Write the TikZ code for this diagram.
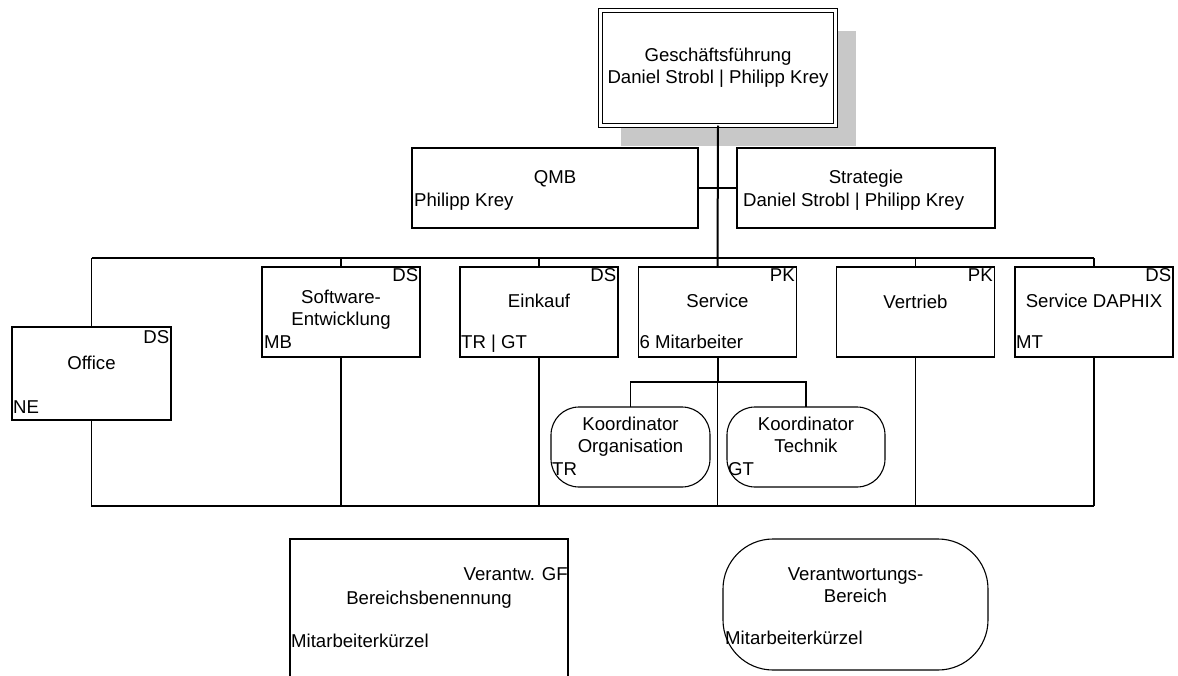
\documentclass[tikz,border=0pt]{standalone}
\usepackage{fontspec}
\setmainfont{Liberation Sans}
\usetikzlibrary{calc,shadows}
\definecolor{gfshade}{RGB}{200,200,200}
\tikzstyle{chief}=[rectangle, draw=black, fill=white, double, line width=1pt,
                   double distance=2.5pt, minimum width=235pt, minimum height=115pt,
                   align=center, inner sep=0pt, outer sep=0pt]
\tikzstyle{staff}=[rectangle, draw=black, fill=white, line width=1.1pt,
                   minimum height=80pt, inner sep=0pt, outer sep=0pt]
\tikzstyle{unit}=[rectangle, draw=black, fill=white, line width=1.1pt,
                  minimum width=158pt, minimum height=90pt, inner sep=0pt, outer sep=0pt]
\tikzstyle{koord}=[unit, rounded corners=28pt, minimum width=158pt, minimum height=80pt]
\tikzstyle{tag}=[anchor=north east, inner sep=1.5pt]
\tikzstyle{title}=[anchor=base, align=center, inner sep=0pt]
\tikzstyle{who}=[anchor=base west, inner sep=0pt]
\tikzstyle{link}=[line width=1.1pt]
\tikzstyle{spine}=[line width=2pt]
\tikzstyle{heavy}=[line width=1.8pt]

\begin{document}
\begin{tikzpicture}[x=1pt, y=-1pt, font=\fontsize{18.6pt}{22pt}\selectfont]
\useasboundingbox (0,0) rectangle (1178,675);
\clip (0,0) rectangle (1178,675);

% management on top, with its grey shadow
\node[chief, general shadow={shadow xshift=20pt, shadow yshift=-20pt, fill=gfshade}]
  (gf) at (718,68) {Geschäftsführung\\Daniel Strobl | Philipp Krey};

% staff positions left and right of the spine
\node[staff, minimum width=286pt] (qmb) at (555,188) {};
\node[staff, minimum width=258pt] (strat) at (866,188) {};
\node[title] (qmbtitle) at ([yshift=-35pt]qmb.north) {QMB};
\node[who] (qmbwho) at ([xshift=2pt,yshift=22pt]qmb.south west) {Philipp Krey};
\node[title] (strattitle) at ([yshift=-35pt]strat.north) {Strategie};
\node[who] (stratwho) at ([xshift=6pt,yshift=22pt]strat.south west) {Daniel Strobl | Philipp Krey};

% departments, from Software-Entwicklung to the right
\node[unit] (swe) at (341,312) {};
\path (swe) ++(198,0) node (einkauf) [unit] {};
\path (einkauf) ++(178.5,0) node (service) [unit] {};
\path (service) ++(198,0) node (vertrieb) [unit] {};
\path (vertrieb) ++(178.5,0) node (daphix) [unit] {};
\node[unit, minimum width=159pt, minimum height=93pt] (office) at (91.5,373.5) {};

\node[tag] (officetag) at ([yshift=-2pt]office.north east) {DS};
\node[title] (officetitle) at ([yshift=-42pt]office.north) {Office};
\node[who] (officewho) at ([xshift=1pt,yshift=7pt]office.south west) {NE};

% (base of a two-line title is its last line)
\node[tag] (swetag) at (swe.north east) {DS};
\node[title] (swetitle) at ([yshift=-58pt]swe.north) {Software-\\Entwicklung};
\node[who] (swewho) at ([xshift=2pt,yshift=9pt]swe.south west) {MB};

\node[tag] (einkauftag) at (einkauf.north east) {DS};
\node[title] (einkauftitle) at ([yshift=-40pt]einkauf.north) {Einkauf};
\node[who] (einkaufwho) at ([xshift=1pt,yshift=9pt]einkauf.south west) {TR | GT};

\node[tag] (servicetag) at (service.north east) {PK};
\node[title] (servicetitle) at ([yshift=-40pt]service.north) {Service};
\node[who] (servicewho) at ([xshift=1pt,yshift=9pt]service.south west) {6 Mitarbeiter};

\node[tag] (vertriebtag) at (vertrieb.north east) {PK};
\node[title] (vertriebtitle) at ([yshift=-41pt]vertrieb.north) {Vertrieb};

\node[tag] (daphixtag) at (daphix.north east) {DS};
\node[title] (daphixtitle) at ([yshift=-40pt]daphix.north) {Service DAPHIX};
\node[who] (daphixwho) at ([xshift=1pt,yshift=9pt]daphix.south west) {MT};

% coordinators below Service
\node[koord, minimum width=159pt] (korg) at (630.5,447) {};
\path (korg) ++(175.5,0) node (ktech) [koord] {};
\node[title] (korgtitle) at ([yshift=-45pt]korg.north) {Koordinator\\Organisation};
\node[who] (korgwho) at ([xshift=1pt,yshift=12pt]korg.south west) {TR};
\node[title] (ktechtitle) at ([yshift=-45pt]ktech.north) {Koordinator\\Technik};
\node[who] (ktechwho) at ([xshift=1pt,yshift=12pt]ktech.south west) {GT};

% legend
\node[unit, minimum width=278pt, minimum height=161pt] (legbox) at (429,619.5) {};
\node[anchor=base east, inner sep=0pt] (legboxtag) at ([yshift=-41pt]legbox.north east) {Verantw. GF};
\node[title] (legboxtitle) at ([yshift=-65pt]legbox.north) {Bereichsbenennung};
\node[who] (legboxwho) at ([xshift=1pt,yshift=-108pt]legbox.north west) {Mitarbeiterkürzel};
\node[koord, minimum width=265pt, minimum height=131pt, rounded corners=50pt] (leground) at (855.5,604.5) {};
\node[title] (legroundtitle) at ([yshift=-63pt]leground.north) {Verantwortungs-\\Bereich};
\node[who] (legroundwho) at ([xshift=2pt,yshift=26pt]leground.south west) {Mitarbeiterkürzel};

% connectors
\coordinate (topbus) at (0,258);
\coordinate (basebus) at (0,506);
\coordinate (kbar) at (718,382);
\draw[spine] (gf.south) -- (service.north);
\draw[link] (qmb.east) -- (strat.west);
\draw[link] (office.north |- topbus) -- (daphix.north |- topbus);
\foreach \u in {office,swe,einkauf,vertrieb,daphix}
  \draw[link] (\u.north |- topbus) -- (\u.north);
\foreach \u in {swe,einkauf,vertrieb,daphix}
  \draw[link] (\u.south) -- (\u.south |- basebus);
\draw[heavy] (office.south) -- (office.south |- basebus) -- (daphix.south |- basebus);
\draw[spine] (service.south) -- (service.south |- kbar);
\draw[link] (service.south |- kbar) -- (service.south |- basebus);
\draw[link] (korg.north) |- (kbar) -| (ktech.north);

\end{tikzpicture}
\end{document}
